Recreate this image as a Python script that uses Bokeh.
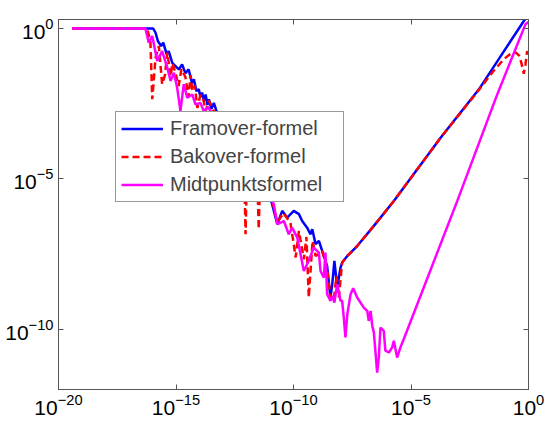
import numpy as np
from bokeh.plotting import figure
from bokeh.models import LogAxis, FixedTicker, Legend, LegendItem, Range1d
from bokeh.embed import file_html
from bokeh.resources import INLINE

# Values, as base-10 exponents of step size h and of the error
fram_log_h = [-19.42, -15.97, -15.87, -15.77, -15.63, -15.54, -15.40, -15.31, -15.16, -15.02,
              -14.88, -14.74, -14.60, -14.46, -14.32, -14.24, -14.13, -14.03, -13.96, -13.89,
              -13.81, -13.74, -13.66, -13.60, -13.49, -13.39, -13.25, -12.68, -11.83, -11.19,
              -10.91, -10.69, -10.48, -10.27, -9.99, -9.77, -9.63, -9.42, -9.28, -9.20,
              -9.06, -8.92, -8.78, -8.71, -8.57, -8.43, -8.35, -8.26, -8.14, -8.00,
              -7.93, -7.71, -7.29, -6.58, -5.73, -3.74, -2.11, -1.05, -0.20, 0.0]
fram_log_err = [0.0, 0.0, -0.14, -0.42, -0.58, -0.47, -0.85, -0.75, -1.14, -1.25,
                -1.36, -1.19, -1.48, -1.36, -1.81, -1.69, -2.08, -2.02, -2.28, -2.13,
                -2.41, -2.19, -2.54, -2.35, -2.67, -2.47, -2.80, -3.24, -4.07, -5.07,
                -5.84, -6.50, -6.06, -6.29, -6.06, -6.17, -6.40, -6.62, -6.84, -6.67,
                -7.17, -7.06, -7.39, -7.56, -7.89, -8.94, -8.50, -7.72, -8.61, -7.95,
                -7.78, -7.56, -7.23, -6.56, -5.73, -3.63, -2.02, -0.76, 0.25, 0.45]

bak_log_h = [-19.42, -16.23, -16.09, -16.01, -15.87, -15.73, -15.59, -15.47, -15.37, -15.23,
             -15.15, -15.02, -14.89, -14.77, -14.60, -14.47, -14.38, -14.30, -14.20, -14.09,
             -13.96, -13.85, -13.74, -13.60, -13.50, -13.36, -12.70, -12.12, -12.04, -11.96,
             -11.56, -11.48, -11.40, -11.10, -10.85, -10.69, -10.43, -10.13, -9.99, -9.91,
             -9.77, -9.56, -9.45, -9.35, -9.19, -9.06, -8.92, -8.78, -8.57, -8.43,
             -8.29, -8.17, -8.07, -7.93, -7.71, -7.29, -6.58, -5.73, -3.74, -2.04,
             -1.50, -1.05, -0.80, -0.55, -0.40, -0.30, -0.20, -0.13, -0.06, 0.0]
bak_log_err = [0.0, 0.0, -0.42, -2.35, -0.97, -0.58, -1.85, -1.55, -0.80, -1.58,
               -1.15, -1.48, -1.91, -1.35, -1.61, -2.28, -1.55, -2.08, -1.90, -2.64,
               -2.20, -2.30, -2.74, -2.40, -2.55, -2.81, -3.30, -3.90, -6.84, -4.00,
               -4.30, -6.67, -4.40, -5.30, -5.90, -6.45, -6.13, -6.46, -7.17, -7.61,
               -6.73, -7.67, -6.93, -8.94, -7.06, -7.56, -7.50, -7.39, -7.99, -8.94,
               -9.05, -8.22, -8.94, -7.78, -7.56, -7.23, -6.56, -5.73, -3.63, -1.97,
               -1.42, -1.02, -0.86, -0.79, -0.90, -1.15, -1.50, -1.20, -0.75, -0.95]

mid_log_h = [-19.42, -16.30, -16.16, -16.01, -15.80, -15.59, -15.37, -15.23, -15.09, -14.95,
             -14.81, -14.67, -14.52, -14.31, -14.17, -13.96, -13.82, -13.62, -13.45, -12.70,
             -12.00, -11.30, -10.84, -10.69, -10.41, -10.20, -10.06, -9.84, -9.56, -9.35,
             -9.14, -8.92, -8.85, -8.71, -8.64, -8.57, -8.43, -8.35, -8.26, -8.14,
             -8.00, -7.93, -7.86, -7.79, -7.71, -7.57, -7.46, -7.29, -7.01, -6.86,
             -6.80, -6.72, -6.65, -6.58, -6.44, -6.37, -6.30, -6.16, -6.09, -5.94,
             -5.80, -5.73, -5.59, -5.45, -5.31, -3.03, -1.33, -0.13, 0.0]
mid_log_err = [0.0, 0.0, -0.47, -0.25, -1.08, -0.75, -1.30, -1.74, -1.47, -1.97,
               -2.74, -1.85, -2.30, -2.19, -2.52, -2.47, -2.74, -2.61, -2.87, -3.50,
               -4.30, -5.20, -5.84, -6.50, -6.40, -6.84, -6.62, -6.95, -8.06, -7.72,
               -7.28, -7.45, -8.06, -8.28, -7.45, -8.83, -9.05, -8.89, -9.11, -8.50,
               -9.05, -9.05, -9.61, -10.27, -9.50, -8.83, -8.63, -8.94, -9.28, -9.39,
               -9.72, -9.39, -9.88, -10.11, -11.44, -10.94, -9.94, -10.05, -10.71, -10.77,
               -10.60, -10.38, -10.94, -10.60, -10.33, -5.73, -2.19, 0.14, 0.22]

labels = ["Framover-formel", "Bakover-formel", "Midtpunktsformel"]
x_ticks = [1e-20, 1e-15, 1e-10, 1e-5, 1e0]
y_ticks = [1e-10, 1e-5, 1e0]

p = figure(frame_width=470, frame_height=370, x_axis_type="log", y_axis_type="log",
           x_range=Range1d(1e-20, 1), y_range=Range1d(1e-12, 2),
           output_backend="svg", toolbar_location=None,
           min_border_left=58, min_border_right=17, min_border_top=19, min_border_bottom=35)
p.grid.visible = False
p.outline_line_color = "#555555"
p.background_fill_color = "white"
p.border_fill_color = "white"

r1 = p.line(np.power(10.0, fram_log_h), np.power(10.0, fram_log_err), line_color="#0000ff", line_width=2.5)
r2 = p.line(np.power(10.0, bak_log_h), np.power(10.0, bak_log_err), line_color="#ff0000", line_width=2.5,
            line_dash="7 4")
r3 = p.line(np.power(10.0, mid_log_h), np.power(10.0, mid_log_err), line_color="#ff00ff", line_width=2.5)

def style(ax, ticks, show_labels=True):
    ax.ticker = FixedTicker(ticks=ticks)
    ax.major_tick_in = 5
    ax.major_tick_out = 0
    ax.minor_tick_line_color = None
    ax.axis_line_color = "#555555"
    ax.major_tick_line_color = "#555555"
    ax.major_label_text_font = "Liberation Sans"
    if show_labels:
        ax.major_label_text_font_size = "21px"
        ax.major_label_text_color = "black"
    else:
        ax.major_label_text_font_size = "2px"
        ax.major_label_text_color = None
        ax.major_label_standoff = 0

style(p.xaxis[0], x_ticks)
style(p.yaxis[0], y_ticks)
p.xaxis[0].major_label_standoff = 4
p.yaxis[0].major_label_standoff = 5

top = LogAxis()
style(top, x_ticks, False)
p.add_layout(top, "above")
right = LogAxis()
style(right, y_ticks, False)
p.add_layout(right, "right")

legend = Legend(items=[LegendItem(label=labels[0], renderers=[r1]),
                       LegendItem(label=labels[1], renderers=[r2]),
                       LegendItem(label=labels[2], renderers=[r3])],
                location=(57, 187), padding=5, spacing=5, margin=0,
                glyph_width=42, glyph_height=23, label_height=23, label_width=168,
                label_standoff=7, label_text_font="Liberation Sans", label_text_font_size="20px",
                border_line_color="#333333", border_line_width=1, background_fill_alpha=1.0)
p.add_layout(legend)

open("out.html", "w").write(file_html(p, INLINE))
